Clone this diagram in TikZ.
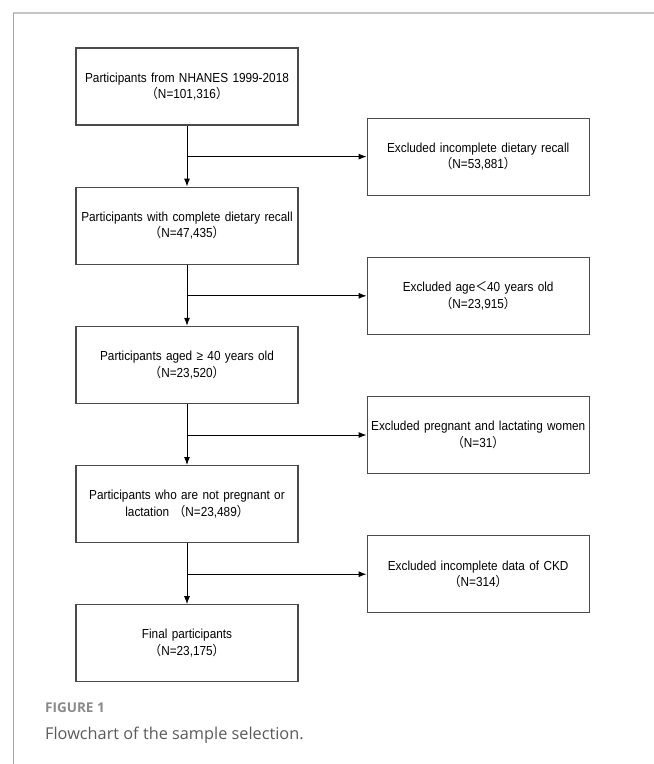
\documentclass[tikz,border=0pt]{standalone}
\usepackage{fontspec}
\setmainfont{Liberation Sans}
\newfontfamily\boxfont[FakeStretch=0.9]{Liberation Sans}
\newfontfamily\cjkfont[FakeStretch=0.9]{Noto Sans CJK SC}
\newfontfamily\captionfont{Open Sans}
\usetikzlibrary{arrows.meta,positioning}
\definecolor{flowborder}{HTML}{4A4A4A}
\definecolor{flowframe}{HTML}{C4C4C4}
\definecolor{flowframeleft}{HTML}{A8A8A8}
\definecolor{capgray}{HTML}{8A8A8A}
\definecolor{captext}{HTML}{5A5A5A}
\newcommand{\fwopen}{{\cjkfont （}}
\newcommand{\fwclose}{{\cjkfont ）}}
\newcommand{\fwless}{{\cjkfont ＜}}
\tikzset{%
  flowbox/.style={%
    draw=flowborder,
    line width=1.2pt,
    fill=white,
    minimum width=222pt,
    minimum height=77pt,
    text width=222pt,
    inner sep=0pt,
    align=center,
    font=\boxfont\fontsize{13.1}{16.5}\selectfont
  },
  exclbox/.style={flowbox},
  flowarrow/.style={-{Latex[length=8pt,width=6pt]},line width=1pt,draw=black}
}
\begin{document}
\begin{tikzpicture}
    \useasboundingbox (0,0) rectangle (654pt,-764pt);
    % frame of the figure panel
    \draw[flowframe,line width=1.5pt] (13pt,-13pt) -- (654pt,-13pt);
    \draw[flowframeleft,line width=1pt] (13pt,-13pt) -- (13pt,-764pt);

    \node[flowbox] (part1) at (187pt,-86.5pt) {Participants from NHANES 1999-2018\\\fwopen N=101,316\fwclose};
    \node[flowbox,below=61pt of part1] (part2) {Participants with complete dietary recall\\\fwopen N=47,435\fwclose};
    \node[flowbox,below=61pt of part2] (part3) {Participants aged ≥ 40 years old\\\fwopen N=23,520\fwclose};
    \node[flowbox,below=61pt of part3] (part4) {Participants who are not pregnant or\\lactation \fwopen N=23,489\fwclose};
    \node[flowbox,below=61pt of part4] (final) {Final participants\\\fwopen N=23,175\fwclose};

    \node[exclbox,right=68pt of part1.south east,yshift=-31pt] (excl1) {Excluded incomplete dietary recall\\\fwopen N=53,881\fwclose};
    \node[exclbox,right=68pt of part2.south east,yshift=-31pt] (excl2) {Excluded age\fwless 40 years old\\\fwopen N=23,915\fwclose};
    \node[exclbox,right=68pt of part3.south east,yshift=-31pt] (excl3) {Excluded pregnant and lactating women\\\fwopen N=31\fwclose};
    \node[exclbox,right=68pt of part4.south east,yshift=-31pt] (excl4) {Excluded incomplete data of CKD\\\fwopen N=314\fwclose};

    \draw[flowarrow] (part1) -- (part2);
    \draw[flowarrow] (part2) -- (part3);
    \draw[flowarrow] (part3) -- (part4);
    \draw[flowarrow] (part4) -- (final);
    \draw[flowarrow] (part1.south |- excl1.west) -- (excl1.west);
    \draw[flowarrow] (part2.south |- excl2.west) -- (excl2.west);
    \draw[flowarrow] (part3.south |- excl3.west) -- (excl3.west);
    \draw[flowarrow] (part4.south |- excl4.west) -- (excl4.west);

    \node[anchor=base west,inner sep=0pt,text=capgray,font=\captionfont\bfseries\fontsize{13.5}{15}\selectfont] (figlabel) at (45pt,-712.5pt) {FIGURE 1};
    \node[anchor=base west,inner sep=0pt,text=captext,font=\captionfont\fontsize{16.3}{19}\selectfont] (figcaption) at (45pt,-739pt) {Flowchart of the sample selection.};
  \end{tikzpicture}
\end{document}
